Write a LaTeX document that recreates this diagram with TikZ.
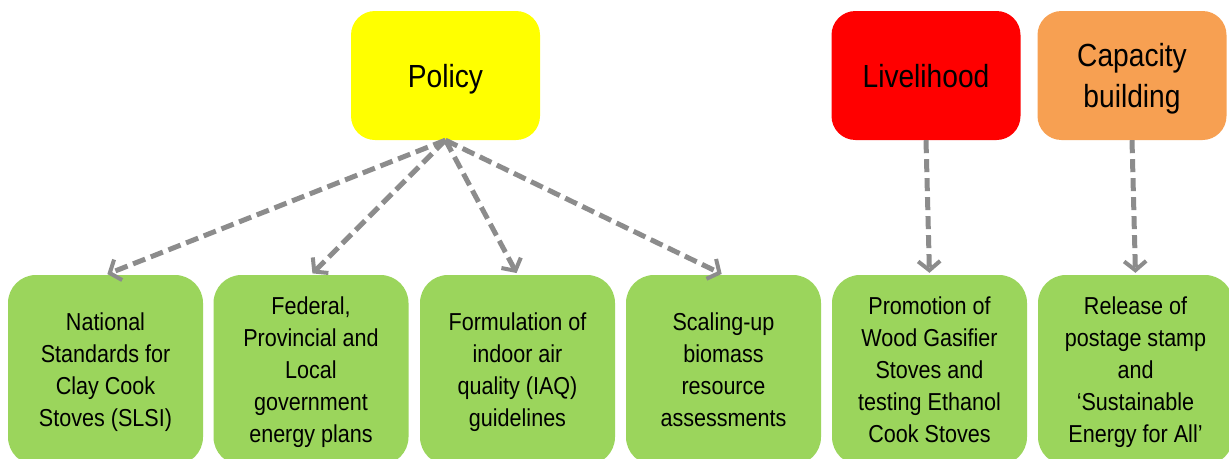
\documentclass[tikz,border=0pt]{standalone}
\usepackage{fontspec}
\setmainfont{Liberation Sans}
\newfontfamily\tallfont[FakeStretch=0.88,Ligatures=TeX]{Liberation Sans}
\usetikzlibrary{arrows.meta}
\definecolor{boxgreen}{RGB}{155,213,92}
\definecolor{boxorange}{RGB}{247,160,82}
\definecolor{boxyellow}{RGB}{255,255,0}
\definecolor{arrowgray}{RGB}{140,140,140}

\begin{document}
\begin{tikzpicture}[x=1pt,y=-1pt,
		head/.style={rounded corners=24pt,minimum width=189pt,minimum height=129pt,inner sep=0pt,text depth=0pt,align=center,font=\tallfont\fontsize{32}{41}\selectfont},
		task/.style={fill=boxgreen,rounded corners=28pt,minimum width=195pt,minimum height=190pt,inner sep=0pt,text depth=0pt,align=center,font=\tallfont\fontsize{24.5}{32}\selectfont},
		link/.style={draw=arrowgray,line width=5pt,dash pattern=on 13pt off 6pt,-{Straight Barb[length=9pt,width=22pt,line width=4pt]},shorten >=2pt}]
		\clip (0,0) rectangle (1229,458);
		\fill[white] (0,0) rectangle (1229,458);
		
		\node[head,fill=boxyellow] (pol) at (445.5,75.5) {Policy};
		\node[head,fill=red] (liv) at (926,75.5) {Livelihood};
		\node[head,fill=boxorange] (cap) at (1132,75.5) {Capacity\\building};
		
		\node[task] (nat) at (105.5,370) {National\\Standards for\\Clay Cook\\Stoves (SLSI)};
		\node[task] (fed) at (311,370) {Federal,\\Provincial and\\Local\\government\\energy plans};
		\node[task] (iaq) at (517.5,370) {Formulation of\\indoor air\\quality (IAQ)\\guidelines};
		\node[task] (bio) at (723.5,370) {Scaling-up\\biomass\\resource\\assessments};
		\node[task] (gas) at (929.5,370) {Promotion of\\Wood Gasifier\\Stoves and\\testing Ethanol\\Cook Stoves};
		\node[task] (stp) at (1135.5,370) {Release of\\postage stamp\\and\\‘Sustainable\\Energy for All’};
		
		\draw[link] (pol.south) -- (nat.north);
		\draw[link] (pol.south) -- (fed.north);
		\draw[link] (pol.south) -- (iaq.north);
		\draw[link] (pol.south) -- (bio.north);
		\draw[link] (liv.south) -- (gas.north);
		\draw[link] (cap.south) -- (stp.north);
		\end{tikzpicture}
\end{document}
